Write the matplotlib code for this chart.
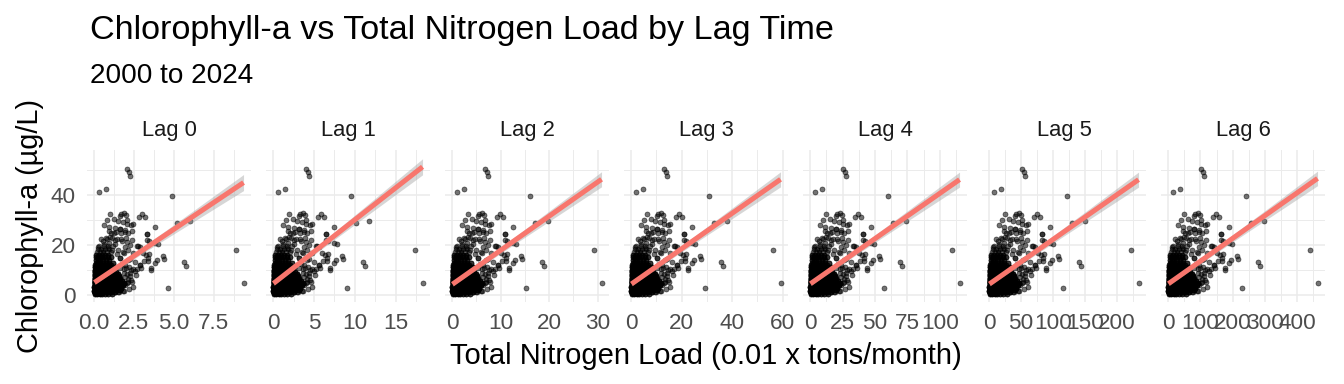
import numpy as np
import matplotlib
matplotlib.use("Agg")
import matplotlib.pyplot as plt
from matplotlib.ticker import FixedLocator

plt.rcParams['font.family'] = ['Liberation Sans', 'DejaVu Sans']

# ---------------- data ----------------
lags = ["Lag 0", "Lag 1", "Lag 2", "Lag 3", "Lag 4", "Lag 5", "Lag 6"]
# load of each lag relative to lag 0 (panels are near-scaled copies)
load_multiplier = [1.0, 1.95, 3.29, 6.32, 12.3, 25.0, 49.4]

# fitted linear trend per panel and CI half-widths
fit_intercept = [5.0, 4.6, 4.3, 4.4, 4.5, 4.4, 4.5]
fit_slope = [4.26, 2.55, 1.36, 0.706, 0.361, 0.178, 0.0909]
band_left = [0.8, 0.8, 0.8, 0.8, 0.8, 0.8, 0.8]
band_right = [3.2, 3.2, 3.0, 3.0, 3.0, 3.0, 2.9]

x_ticks = [[0, 2.5, 5, 7.5], [0, 5, 10, 15], [0, 10, 20, 30], [0, 20, 40, 60],
           [0, 25, 50, 75, 100], [0, 50, 100, 150, 200], [0, 100, 200, 300, 400]]
x_tick_labels = [["0.0", "2.5", "5.0", "7.5"], ["0", "5", "10", "15"],
                 ["0", "10", "20", "30"], ["0", "20", "40", "60"],
                 ["0", "25", "50", "75", "100"], ["0", "50", "100", "150", "200"],
                 ["0", "100", "200", "300", "400"]]
y_ticks = [0, 20, 40]
y_tick_labels = ["0", "20", "40"]

# scattered observations (load in lag-0 units, chlorophyll-a)
scatter_load = [2.06, 2.17, 2.27, 0.29, 0.77, 4.86, 6.02, 5.2, 8.9, 9.37, 4.62,
                5.65, 5.77, 4.3, 4.38, 3.94, 3.83, 3.58, 3.31, 3.44, 3.83, 3.83, 4.0,
                2.9, 2.69, 3.42, 3.27, 3.37, 3.1, 1.9, 1.54,
                1.02, 1.85, 1.71, 2.02, 1.6, 1.23, 0.83, 1.5, 2.08, 1.81, 3.0, 3.17,
                2.83, 2.44, 2.08, 0.63, 0.92, 1.29, 1.6, 1.92, 2.33, 1.08, 1.4, 1.71,
                2.13, 0.46, 0.77, 0.98, 1.33, 1.67, 2.02, 2.4, 2.75, 2.23, 1.92,
                3.33, 3.33, 0.25, 0.56, 0.88, 1.19, 1.5, 1.81, 2.13, 2.44, 3.06, 3.38,
                2.13, 2.54, 1.92, 1.6, 2.33, 2.85, 2.96, 3.54, 2.65, 2.23, 2.13, 2.44,
                1.92, 2.33, 1.81, 1.5, 2.9, 2.69, 2.44, 2.17, 2.06, 2.27, 1.85, 1.65,
                0.92, 1.23, 1.65, 1.96, 2.38, 0.56, 0.81, 1.13, 1.44, 1.75, 2.06,
                1.95, 2.1, 1.85, 2.25, 2.0, 1.75, 2.4, 2.55, 1.7, 2.2, 1.6, 1.45,
                1.3, 0.95, 0.6, 1.15, 2.05, 1.62, 1.88]
scatter_chl = [50.3, 49.0, 47.4, 41.0, 42.2, 39.4, 29.4, 28.7, 17.9, 4.8, 2.8,
               13.2, 11.8, 15.5, 14.4, 13.9, 12.7, 10.2, 24.3, 21.6, 27.1, 21.0, 20.3,
               19.4, 19.6, 16.5, 15.9, 13.7, 13.7, 1.7, 1.4,
               32.4, 32.9, 32.4, 32.0, 31.6, 30.3, 30.0, 29.7, 30.0, 29.3, 32.4, 31.3,
               31.1, 28.4, 28.3, 28.0, 27.1, 26.7, 26.3, 26.0, 28.0, 25.0, 25.4, 24.7,
               25.0, 22.3, 22.7, 23.4, 22.0, 22.3, 22.7, 22.0, 19.6, 20.0, 19.1,
               24.3, 22.0, 19.1, 18.0, 18.7, 19.6, 18.0, 17.4, 18.0, 16.7, 16.7, 14.7,
               14.1, 13.4, 12.1, 10.7, 10.1, 12.1, 10.7, 10.7, 8.1, 8.75, 5.4, 3.4,
               7.4, 6.1, 1.7, 1.4, 11.9, 10.3, 10.3, 11.4, 8.3, 14.3, 17.0, 15.0,
               25.6, 25.0, 26.3, 25.2, 25.6, 21.6, 22.3, 23.0, 22.3, 21.6, 21.2,
               4.2, 6.5, 9.0, 7.8, 11.0, 12.5, 5.2, 9.5, 3.0, 2.6, 14.8, 16.5,
               20.5, 20.8, 20.5, 18.2, 4.9, 7.2, 10.4]

# dense low-load cloud: (chlorophyll level, overplotted count, loads in lag-0 units)
cloud_rows = [
    (0.4, 2, [0.06, 0.2, 0.35, 0.52, 0.7, 0.9, 1.1]),
    (0.8, 3, [0.03, 0.09, 0.14, 0.2, 0.26, 0.31, 0.38, 0.45]),
    (1.2, 3, [0.04, 0.15, 0.28, 0.42, 0.57, 0.73, 0.9, 1.08, 1.3]),
    (1.6, 3, [0.02, 0.07, 0.12, 0.18, 0.24, 0.3, 0.36, 0.43, 0.5]),
    (2.1, 3, [0.03, 0.12, 0.23, 0.36, 0.5, 0.64, 0.8, 0.97, 1.15, 1.38, 1.62]),
    (2.5, 3, [0.04, 0.09, 0.15, 0.21, 0.27, 0.33, 0.4, 0.47, 0.55]),
    (3.0, 3, [0.05, 0.14, 0.26, 0.39, 0.53, 0.68, 0.84, 1.0, 1.2, 1.42, 1.7]),
    (3.4, 3, [0.02, 0.08, 0.13, 0.19, 0.25, 0.32, 0.39, 0.46, 0.54, 0.62]),
    (3.9, 3, [0.03, 0.11, 0.22, 0.34, 0.47, 0.61, 0.76, 0.93, 1.1, 1.3, 1.52, 1.78]),
    (4.3, 3, [0.05, 0.1, 0.16, 0.22, 0.29, 0.36, 0.44, 0.52, 0.6, 0.7]),
    (4.8, 3, [0.04, 0.13, 0.25, 0.38, 0.52, 0.67, 0.83, 1.0, 1.18, 1.4, 1.63, 1.9]),
    (5.2, 3, [0.03, 0.08, 0.14, 0.21, 0.28, 0.35, 0.43, 0.51, 0.6, 0.69]),
    (5.7, 3, [0.05, 0.15, 0.27, 0.4, 0.55, 0.7, 0.87, 1.05, 1.25, 1.47, 1.72]),
    (6.1, 3, [0.04, 0.1, 0.17, 0.24, 0.31, 0.39, 0.47, 0.56, 0.66]),
    (6.6, 3, [0.04, 0.12, 0.24, 0.37, 0.51, 0.66, 0.82, 0.99, 1.18, 1.4, 1.65]),
    (7.0, 3, [0.06, 0.13, 0.2, 0.28, 0.36, 0.45, 0.55]),
    (7.5, 3, [0.06, 0.16, 0.28, 0.42, 0.57, 0.73, 0.9, 1.08, 1.3, 1.55]),
    (8.0, 2, [0.04, 0.11, 0.19, 0.33, 0.48, 0.63, 0.8]),
    (8.4, 3, [0.05, 0.14, 0.26, 0.4, 0.55, 0.71, 0.88, 1.07, 1.28, 1.5]),
    (9.3, 3, [0.07, 0.18, 0.31, 0.45, 0.6, 0.77, 0.95, 1.15, 1.38]),
    (9.8, 2, [0.04, 0.12, 0.24, 0.37, 0.52, 0.68, 0.86]),
    (10.2, 3, [0.06, 0.17, 0.3, 0.44, 0.6, 0.77, 0.96, 1.17]),
    (11.1, 3, [0.08, 0.2, 0.34, 0.49, 0.66, 0.85, 1.05, 1.28]),
    (12.0, 2, [0.07, 0.19, 0.33, 0.48, 0.65, 0.84, 1.04]),
    (13.0, 2, [0.1, 0.23, 0.38, 0.55, 0.74, 0.95, 1.17]),
    (14.0, 2, [0.09, 0.22, 0.37, 0.54, 0.73, 0.94]),
    (15.1, 2, [0.12, 0.27, 0.44, 0.63, 0.85, 1.08]),
    (16.2, 2, [0.14, 0.3, 0.48, 0.68, 0.9]),
    (17.4, 1, [0.18, 0.36, 0.57, 0.8, 1.03]),
    (18.6, 1, [0.22, 0.45, 0.68, 0.95]),
    (19.8, 1, [0.3, 0.6, 0.9]),
]

title = "Chlorophyll-a vs Total Nitrogen Load by Lag Time"
subtitle = "2000 to 2024"
x_title = "Total Nitrogen Load (0.01 x tons/month)"
y_title = "Chlorophyll-a (µg/L)"

# ---------------- assemble ----------------
base_load = np.array(scatter_load + [x for _, c, xs in cloud_rows for x in xs for _ in range(c)])
chl = np.array(scatter_chl + [y for y, c, xs in cloud_rows for _ in xs for _ in range(c)])

W, H = 1344, 384
fig = plt.figure(figsize=(W / 100, H / 100), dpi=100)
fig.patch.set_facecolor("white")

panel_left, panel_w, panel_step = 87, 164, 179
panel_top, panel_bot = 150, 302
grid_col = "#EBEBEB"
tick_col = "#4D4D4D"

for k, lab in enumerate(lags):
    x = base_load * load_multiplier[k]
    ax = fig.add_axes([(panel_left + k * panel_step) / W, (H - panel_bot) / H,
                       panel_w / W, (panel_bot - panel_top) / H])
    ax.set_facecolor("white")
    for s in ax.spines.values():
        s.set_visible(False)

    ax.scatter(x, chl, s=13, facecolors=(0, 0, 0, 0.55), edgecolors=(0, 0, 0, 0.6),
               linewidths=0.5, zorder=2)

    # linear trend with confidence band, spanning the data range
    x0, x1 = x.min(), x.max()
    xg = np.linspace(x0, x1, 80)
    yfit = fit_intercept[k] + fit_slope[k] * xg
    frac = (xg - x0) / (x1 - x0)
    half = np.sqrt(band_left[k] ** 2 + (band_right[k] ** 2 - band_left[k] ** 2) * frac ** 2)
    ax.fill_between(xg, yfit - half, yfit + half, color="#999999",
                    alpha=0.4, lw=0, zorder=3)
    ax.plot(xg, yfit, color="#F8766D", lw=3.6, solid_capstyle="butt", zorder=4)

    r = x1 - x0
    ax.set_xlim(x0 - 0.05 * r, x1 + 0.05 * r)
    ax.set_ylim(-2.7, 57.9)

    xt = x_ticks[k]
    step = xt[1] - xt[0]
    ax.xaxis.set_major_locator(FixedLocator(xt))
    ax.set_xticklabels(x_tick_labels[k])
    minors = [t + step / 2 for t in xt] + [xt[0] - step / 2]
    ax.xaxis.set_minor_locator(FixedLocator(minors))
    ax.yaxis.set_major_locator(FixedLocator(y_ticks))
    ax.yaxis.set_minor_locator(FixedLocator([10, 30, 50]))
    if k == 0:
        ax.set_yticklabels(y_tick_labels)
    else:
        ax.set_yticklabels([])

    ax.grid(which="major", color=grid_col, lw=1.1, zorder=0)
    ax.grid(which="minor", color=grid_col, lw=0.7, zorder=0)
    ax.set_axisbelow(True)
    ax.tick_params(which="both", length=0, labelsize=16.2, labelcolor=tick_col, pad=8.0)

    fig.text((panel_left + k * panel_step + panel_w / 2) / W, 1 - 131 / H, lab,
             ha="center", va="center", fontsize=15.8, color="#1A1A1A")

fig.text(90 / W, 1 - 31 / H, title, ha="left", va="center", fontsize=24.6, color="black")
fig.text(90 / W, 1 - 76 / H, subtitle, ha="left", va="center", fontsize=20.1, color="black")
fig.text((panel_left + (6 * panel_step + panel_w) / 2) / W, 1 - 356 / H, x_title,
         ha="center", va="center", fontsize=21, color="black")
fig.text(30 / W, 1 - (panel_top + panel_bot) / 2 / H, y_title, rotation=90,
         ha="center", va="center", fontsize=20.8, color="black")

fig.savefig("out.png", dpi=100, facecolor="white")
